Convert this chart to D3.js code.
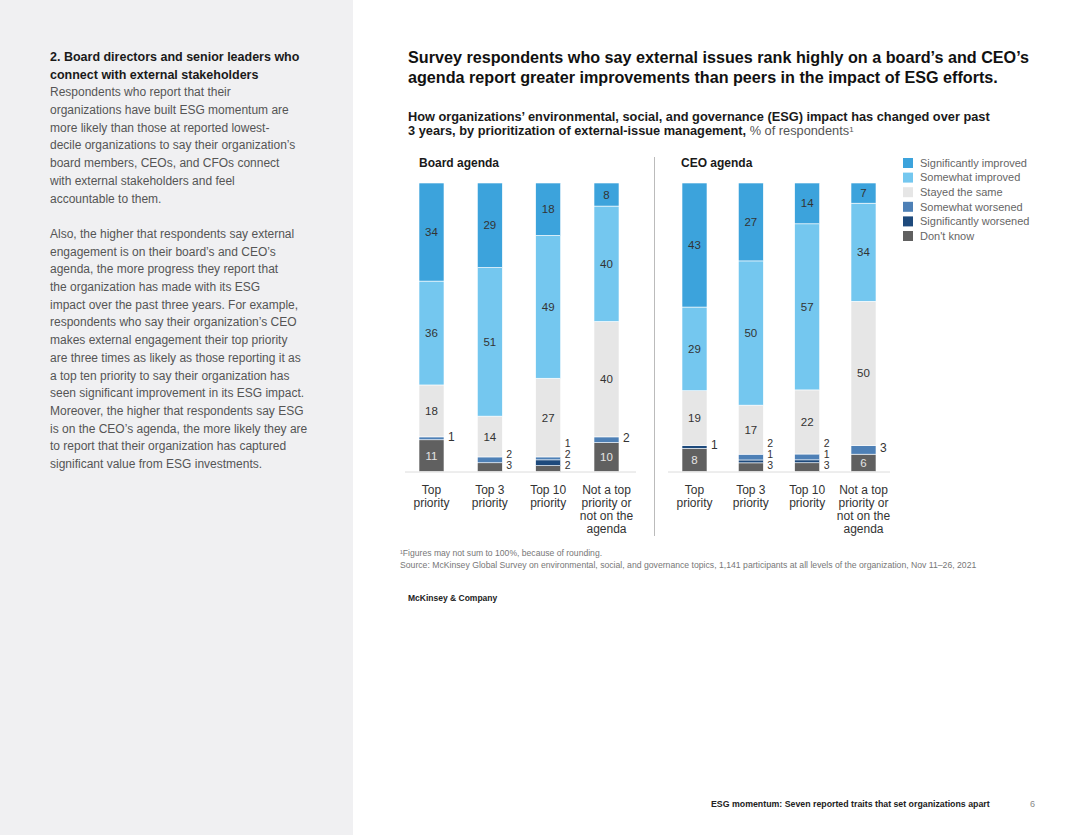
<!DOCTYPE html>
<html>
<head>
<meta charset="utf-8">
<script src="https://cdn.jsdelivr.net/npm/d3@7"></script>
<style>
  body { margin: 0; background: #fff; }
  svg { display: block; font-family: "Liberation Sans", Arial, sans-serif; }
</style>
</head>
<body>
<svg id="chart" width="1080" height="835"></svg>
<script>
// ---- data ----
var categories = ["Top priority", "Top 3 priority", "Top 10 priority", "Not a top priority or not on the agenda"];
var categoryLines = [["Top", "priority"], ["Top 3", "priority"], ["Top 10", "priority"], ["Not a top", "priority or", "not on the", "agenda"]];
var seriesNames = ["Significantly improved", "Somewhat improved", "Stayed the same", "Somewhat worsened", "Significantly worsened", "Don't know"];
var seriesColors = ["#3ca3dc", "#74c7ef", "#e6e6e6", "#4e80b6", "#1e4a7c", "#606060"];
// values per category, in series order
var boardValues = [
  [34, 36, 18, 1, 0, 11],
  [29, 51, 14, 2, 0, 3],
  [18, 49, 27, 1, 2, 2],
  [8, 40, 40, 2, 0, 10]
];
var ceoValues = [
  [43, 29, 19, 0, 1, 8],
  [27, 50, 17, 2, 1, 3],
  [14, 57, 22, 2, 1, 3],
  [7, 34, 50, 3, 0, 6]
];
var sideParagraphs = [
  {bold: true, lines: ["2. Board directors and senior leaders who", "connect with external stakeholders"]},
  {bold: false, lines: ["Respondents who report that their", "organizations have built ESG momentum are", "more likely than those at reported lowest-", "decile organizations to say their organization\u2019s", "board members, CEOs, and CFOs connect", "with external stakeholders and feel", "accountable to them."]},
  {bold: false, gap: true, lines: ["Also, the higher that respondents say external", "engagement is on their board\u2019s and CEO\u2019s", "agenda, the more progress they report that", "the organization has made with its ESG", "impact over the past three years. For example,", "respondents who say their organization\u2019s CEO", "makes external engagement their top priority", "are three times as likely as those reporting it as", "a top ten priority to say their organization has", "seen significant improvement in its ESG impact.", "Moreover, the higher that respondents say ESG", "is on the CEO\u2019s agenda, the more likely they are", "to report that their organization has captured", "significant value from ESG investments."]}
];

var svg = d3.select("#chart");

// fit a text element's font size so that it spans a given width
function fitWidth(sel, w) {
  var fs = parseFloat(sel.style("font-size"));
  var len = sel.node().getComputedTextLength();
  sel.style("font-size", (fs * w / len).toFixed(2) + "px");
}

// ---- left side panel ----
svg.append("rect").attr("x", 0).attr("y", 0).attr("width", 353).attr("height", 835).attr("fill", "#f0f0f2");
var side = svg.append("g").attr("class", "side");
var lineY = 56.7, lh = 17.7;
sideParagraphs.forEach(function(p) {
  if (p.gap) lineY += lh;
  p.lines.forEach(function(l) {
    side.append("text")
      .attr("x", 50).attr("y", lineY).attr("dy", "0.35em")
      .style("font-size", p.bold ? "12.5px" : "12px")
      .style("font-weight", p.bold ? "bold" : "normal")
      .attr("fill", p.bold ? "#1a1a1a" : "#555")
      .text(l);
    lineY += lh;
  });
});

// ---- titles ----
var t1 = svg.append("text").attr("x", 408).attr("y", 57).attr("dy", "0.35em")
  .style("font-size", "17px").style("font-weight", "bold").attr("fill", "#111")
  .text("Survey respondents who say external issues rank highly on a board\u2019s and CEO\u2019s");
fitWidth(t1, 621);
svg.append("text").attr("x", 408).attr("y", 77).attr("dy", "0.35em")
  .style("font-size", t1.style("font-size")).style("font-weight", "bold").attr("fill", "#111")
  .text("agenda report greater improvements than peers in the impact of ESG efforts.");

var s1 = svg.append("text").attr("x", 408).attr("y", 117).attr("dy", "0.35em")
  .style("font-size", "13px").style("font-weight", "bold").attr("fill", "#1a1a1a")
  .text("How organizations\u2019 environmental, social, and governance (ESG) impact has changed over past");
fitWidth(s1, 582);
var s2 = svg.append("text").attr("x", 408).attr("y", 131).attr("dy", "0.35em")
  .style("font-size", s1.style("font-size")).attr("fill", "#1a1a1a");
s2.append("tspan").style("font-weight", "bold").text("3 years, by prioritization of external-issue management, ");
s2.append("tspan").attr("fill", "#555").text("% of respondents");
s2.append("tspan").attr("fill", "#555").attr("dy", "-0.45em").style("font-size", "8px").text("1");

// ---- panels ----
var y0 = 471.5, y100 = 183;
var barW = 25;
var panels = [
  {title: "Board agenda", titleX: 419, values: boardValues, range: [431.5, 606.5], base: [405, 636]},
  {title: "CEO agenda", titleX: 681, values: ceoValues, range: [694.5, 863.5], base: [668, 890]}
];

// bottom to top stack order: reverse of series order
var stackOrder = d3.range(seriesNames.length).reverse();

panels.forEach(function(panel) {
  var g = svg.append("g");
  var x = d3.scalePoint().domain(categories).range(panel.range);

  g.append("text").attr("x", panel.titleX).attr("y", 163).attr("dy", "0.35em")
    .style("font-size", "12px").style("font-weight", "bold").attr("fill", "#1a1a1a")
    .text(panel.title);

  g.append("line")
    .attr("x1", panel.base[0]).attr("x2", panel.base[1])
    .attr("y1", y0 + 0.5).attr("y2", y0 + 0.5)
    .attr("stroke", "#dcdcdc").attr("stroke-width", 1);

  categories.forEach(function(cat, ci) {
    var vals = panel.values[ci];
    var total = d3.sum(vals);
    var y = d3.scaleLinear().domain([0, total]).range([y0, y100]);
    var cx = x(cat);
    var segs = [];
    var acc = 0;
    stackOrder.forEach(function(si) {
      segs.push({si: si, v: vals[si], a: acc, b: acc + vals[si]});
      acc += vals[si];
    });

    var bar = g.append("g");
    bar.selectAll("rect").data(segs.filter(function(s) { return s.v > 0; }))
      .join("rect")
      .attr("x", cx - barW / 2)
      .attr("width", barW)
      .attr("y", function(s) { return y(s.b); })
      .attr("height", function(s) { return y(s.a) - y(s.b); })
      .attr("fill", function(s) { return seriesColors[s.si]; })
      .attr("stroke", "#fff").attr("stroke-width", 0.6);

    // labels inside big segments
    bar.selectAll("text.in").data(segs.filter(function(s) { return s.v >= 5; }))
      .join("text").attr("class", "in")
      .attr("x", cx).attr("y", function(s) { return y((s.a + s.b) / 2); })
      .attr("dy", "0.35em").attr("text-anchor", "middle")
      .style("font-size", "11.5px")
      .attr("fill", function(s) { return s.si === 5 ? "#e4e4e4" : "#333"; })
      .text(function(s) { return s.v; });

    // small values labelled at the right of the bar
    var small = segs.filter(function(s) { return s.v > 0 && s.v < 5; });
    var fromBottom = small.length > 1 || (small.length === 1 && small[0].a === 0);
    bar.selectAll("text.out").data(small)
      .join("text").attr("class", "out")
      .attr("x", cx + barW / 2 + 4)
      .attr("y", function(s, i) {
        return fromBottom ? y0 - 6 - 11 * i : y((s.a + s.b) / 2) - 2;
      })
      .attr("dy", "0.35em")
      .style("font-size", fromBottom && small.length > 1 ? "10.5px" : "12px").attr("fill", "#333")
      .text(function(s) { return s.v; });

    // category label
    var lab = g.append("text").attr("text-anchor", "middle")
      .style("font-size", "12px").attr("fill", "#333");
    categoryLines[ci].forEach(function(l, li) {
      lab.append("tspan").attr("x", cx).attr("y", 490 + 13 * li).attr("dy", "0.35em").text(l);
    });
  });
});

// divider between panels
svg.append("line").attr("x1", 654.5).attr("x2", 654.5).attr("y1", 157).attr("y2", 536)
  .attr("stroke", "#bbb").attr("stroke-width", 1);

// ---- legend ----
var legend = svg.append("g").selectAll("g").data(seriesNames).join("g")
  .attr("transform", function(d, i) { return "translate(903," + (158 + 14.6 * i) + ")"; });
legend.append("rect").attr("width", 10).attr("height", 10)
  .attr("fill", function(d, i) { return seriesColors[i]; });
legend.append("text").attr("x", 17).attr("y", 5).attr("dy", "0.35em")
  .style("font-size", "11px").attr("fill", "#666")
  .text(function(d) { return d; });

// ---- notes ----
svg.append("text").attr("x", 400).attr("y", 553).attr("dy", "0.35em")
  .style("font-size", "8.6px").attr("fill", "#777")
  .text("\u00b9Figures may not sum to 100%, because of rounding.");
var src = svg.append("text").attr("x", 400).attr("y", 565).attr("dy", "0.35em")
  .style("font-size", "8.6px").attr("fill", "#777")
  .text("Source: McKinsey Global Survey on environmental, social, and governance topics, 1,141 participants at all levels of the organization, Nov 11\u201326, 2021");
fitWidth(src, 577);

svg.append("text").attr("x", 408).attr("y", 598).attr("dy", "0.35em")
  .style("font-size", "8.5px").style("font-weight", "bold").attr("fill", "#222")
  .text("McKinsey & Company");

var foot = svg.append("text").attr("x", 711).attr("y", 804).attr("dy", "0.35em")
  .style("font-size", "8.5px").style("font-weight", "bold").attr("fill", "#222")
  .text("ESG momentum: Seven reported traits that set organizations apart");
fitWidth(foot, 279);
svg.append("text").attr("x", 1030).attr("y", 804).attr("dy", "0.35em")
  .style("font-size", "9px").attr("fill", "#888").text("6");
</script>
</body>
</html>
